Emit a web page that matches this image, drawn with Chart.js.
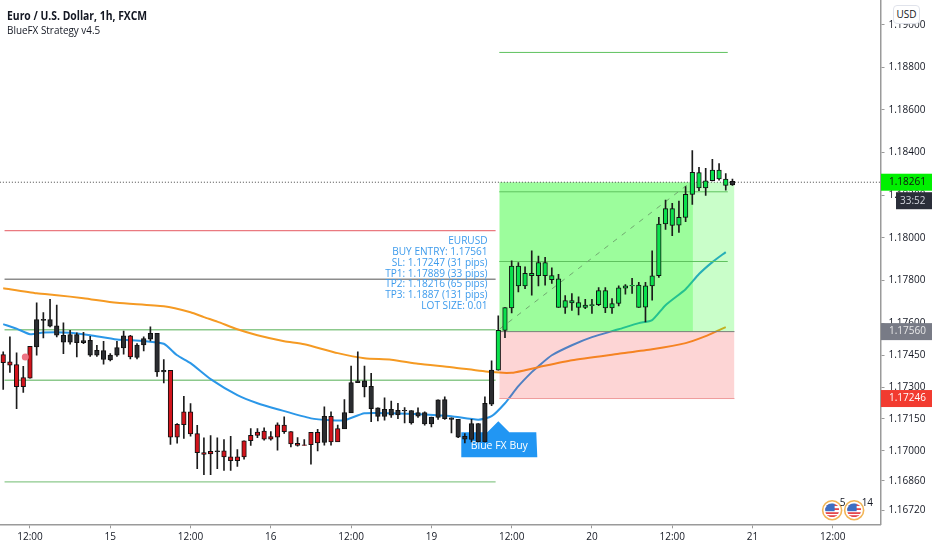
<!DOCTYPE html>
<html>
<head>
<meta charset="utf-8">
<title>EURUSD BlueFX</title>
<script src="https://cdn.jsdelivr.net/npm/chart.js@4/dist/chart.umd.min.js"></script>
<style>
    html, body { margin: 0; padding: 0; background: #fff; }
    #wrap { position: relative; width: 932px; height: 550px; overflow: hidden; }
    #titulo { position: absolute; left: 7px; top: 7px; font: bold 12px "Open Sans"; color: #131722; transform: scaleX(0.865); transform-origin: left; white-space: nowrap; }
    #estrategia { position: absolute; left: 7px; top: 22px; font: 11.5px "Open Sans"; color: #131722; transform: scaleX(0.86); transform-origin: left; white-space: nowrap; }
    #usd { position: absolute; left: 893px; top: 5px; width: 25px; height: 17px; line-height: 17px; text-align: center;
           border: 1px solid #e0e3eb; border-radius: 4px; background: #fff; font: 10px/17px "Open Sans"; color: #131722; }
</style>
</head>
<body>
<div id="wrap">
    <canvas id="grafico" width="932" height="550"></canvas>
    <div id="titulo">Euro / U.S. Dollar, 1h, FXCM</div>
    <div id="estrategia">BlueFX Strategy v4.5</div>
    <div id="usd">USD</div>
</div>
<script>
// horas contadas desde el 14 a las 00:00
const firstHour = 8;

const bodyTop = [
    1.17452, 1.17418, 1.17405, 1.17344, 1.17491, 1.17616, 1.17618, 1.17616, 1.17587, 1.17543,
    1.17546, 1.17546, 1.17518, 1.17519, 1.17472, 1.17471, 1.17450, 1.17485, 1.17540, 1.17540,
    1.17497, 1.17527, 1.17552, 1.17552, 1.17378, 1.17378, 1.17125, 1.17184, 1.17184, 1.17081,
    1.16993, 1.16998, 1.17001, 1.17001, 1.16972, 1.16972, 1.17048, 1.17073, 1.17089, 1.17093,
    1.17068, 1.17123, 1.17121, 1.17091, 1.17036, 1.17029, 1.17088, 1.17087, 1.17163, 1.17163,
    1.17105, 1.17180, 1.17321, 1.17329, 1.17329, 1.17303, 1.17202, 1.17195, 1.17195, 1.17191,
    1.17191, 1.17190, 1.17180, 1.17180, 1.17159, 1.17240, 1.17241, 1.17155, 1.17148, 1.17069,
    1.17129, 1.17129, 1.17223, 1.17379, 1.17566, 1.17673, 1.17867, 1.17867, 1.17833, 1.17833,
    1.17884, 1.17884, 1.17823, 1.17808, 1.17706, 1.17706, 1.17696, 1.17684, 1.17687, 1.17753,
    1.17753, 1.17692, 1.17766, 1.17775, 1.17777, 1.17778, 1.17775, 1.17822, 1.18065, 1.18137,
    1.18137, 1.18096, 1.18204, 1.18307, 1.18306, 1.18268, 1.18318, 1.18318, 1.18276, 1.18265
];
const bodyBottom = [
    1.17414, 1.17402, 1.17302, 1.17302, 1.17342, 1.17488, 1.17613, 1.17585, 1.17543, 1.17511,
    1.17511, 1.17508, 1.17508, 1.17449, 1.17449, 1.17429, 1.17427, 1.17449, 1.17483, 1.17441,
    1.17439, 1.17497, 1.17524, 1.17371, 1.17371, 1.17065, 1.17065, 1.17123, 1.17080, 1.16992,
    1.16984, 1.16986, 1.16997, 1.16972, 1.16954, 1.16954, 1.16972, 1.17048, 1.17073, 1.17055,
    1.17055, 1.17065, 1.17090, 1.17033, 1.17026, 1.17026, 1.17029, 1.17038, 1.17040, 1.17043,
    1.17043, 1.17104, 1.17179, 1.17321, 1.17301, 1.17199, 1.17162, 1.17162, 1.17168, 1.17169,
    1.17188, 1.17132, 1.17163, 1.17127, 1.17127, 1.17157, 1.17152, 1.17148, 1.17065, 1.17055,
    1.17054, 1.17043, 1.17043, 1.17220, 1.17379, 1.17566, 1.17671, 1.17775, 1.17775, 1.17823,
    1.17822, 1.17822, 1.17804, 1.17673, 1.17673, 1.17695, 1.17673, 1.17674, 1.17682, 1.17687,
    1.17671, 1.17671, 1.17692, 1.17764, 1.17774, 1.17673, 1.17675, 1.17774, 1.17822, 1.18065,
    1.18058, 1.18060, 1.18096, 1.18204, 1.18234, 1.18234, 1.18268, 1.18276, 1.18246, 1.18248
];
const wickTop = [
    1.17465, 1.17535, 1.17460, 1.17397, 1.17491, 1.17695, 1.17649, 1.17712, 1.17684, 1.17601,
    1.17566, 1.17554, 1.17557, 1.17538, 1.17496, 1.17515, 1.17457, 1.17515, 1.17562, 1.17543,
    1.17504, 1.17535, 1.17582, 1.17552, 1.17429, 1.17378, 1.17128, 1.17256, 1.17222, 1.17120,
    1.17062, 1.17072, 1.17062, 1.17053, 1.17069, 1.17006, 1.17048, 1.17105, 1.17105, 1.17108,
    1.17091, 1.17132, 1.17160, 1.17091, 1.17063, 1.17054, 1.17088, 1.17101, 1.17207, 1.17184,
    1.17121, 1.17241, 1.17398, 1.17465, 1.17398, 1.17364, 1.17202, 1.17249, 1.17234, 1.17223,
    1.17204, 1.17190, 1.17202, 1.17184, 1.17159, 1.17240, 1.17254, 1.17155, 1.17148, 1.17082,
    1.17148, 1.17129, 1.17254, 1.17423, 1.17634, 1.17673, 1.17892, 1.17884, 1.17864, 1.17939,
    1.17914, 1.17908, 1.17859, 1.17829, 1.17729, 1.17739, 1.17723, 1.17712, 1.17712, 1.17767,
    1.17767, 1.17715, 1.17775, 1.17781, 1.17810, 1.17791, 1.17791, 1.17939, 1.18096, 1.18177,
    1.18162, 1.18173, 1.18240, 1.18409, 1.18331, 1.18326, 1.18368, 1.18349, 1.18302, 1.18276
];
const wickBottom = [
    1.17289, 1.17369, 1.17198, 1.17275, 1.17342, 1.17449, 1.17530, 1.17582, 1.17535, 1.17457,
    1.17501, 1.17441, 1.17504, 1.17444, 1.17444, 1.17407, 1.17422, 1.17444, 1.17454, 1.17432,
    1.17432, 1.17469, 1.17516, 1.17350, 1.17319, 1.17031, 1.17037, 1.17059, 1.17069, 1.16917,
    1.16889, 1.16889, 1.16917, 1.16909, 1.16909, 1.16928, 1.16962, 1.17026, 1.17062, 1.17051,
    1.17051, 1.17004, 1.17082, 1.17019, 1.17022, 1.17026, 1.16938, 1.17000, 1.17027, 1.17027,
    1.17069, 1.17137, 1.17254, 1.17321, 1.17254, 1.17137, 1.17141, 1.17144, 1.17157, 1.17152,
    1.17132, 1.17126, 1.17157, 1.17121, 1.17113, 1.17148, 1.17148, 1.17085, 1.17062, 1.17038,
    1.17043, 1.17043, 1.17043, 1.17212, 1.17379, 1.17532, 1.17648, 1.17746, 1.17762, 1.17731,
    1.17775, 1.17778, 1.17786, 1.17673, 1.17645, 1.17660, 1.17638, 1.17668, 1.17645, 1.17682,
    1.17649, 1.17645, 1.17680, 1.17736, 1.17739, 1.17673, 1.17606, 1.17708, 1.17814, 1.18040,
    1.18010, 1.18025, 1.18076, 1.18157, 1.18221, 1.18199, 1.18267, 1.18271, 1.18224, 1.18246
];
// r = rojo, k = negro, g = verde, una letra por vela
const candleKind = (
    "rrrrr" + "kkkkkkkkkkkkkk" + "r" + "kkkkk" + "rrrrrrr" + "k" +
    "rrrrrrrrrrrrrrr" + "k" + "rr" + "kkkkkkkkkkkkkkkkkkkkkkk" +
    "gggggggggggggggggggggggggggggggggggk"
).split("");

const orangeHours = [8, 13, 16, 20, 25, 32, 36, 38, 40, 43, 46, 50, 53, 58, 62, 66, 70, 75, 81, 84, 86, 88, 93, 100, 105, 110, 113, 115, 116];
const orangeValues = [1.17764, 1.17740, 1.17731, 1.17717, 1.17695, 1.17679, 1.17651, 1.17628, 1.17607, 1.17571, 1.17543, 1.17515, 1.17501, 1.17459, 1.17435, 1.17428, 1.17409, 1.17393, 1.17370, 1.17367, 1.17379, 1.17393, 1.17426, 1.17456, 1.17477, 1.17506, 1.17539, 1.17567, 1.17581];
const blueHours = [8, 10, 12, 14, 18, 21, 25, 29, 32, 34, 36, 39, 43, 46, 49, 54, 57, 59, 62, 66, 71, 75, 79, 81, 83, 85, 87, 88, 90, 93, 96, 100, 103, 105, 107, 110, 112, 114, 116];
const blueValues = [1.17595, 1.17574, 1.17548, 1.17556, 1.17555, 1.17543, 1.17523, 1.17516, 1.17503, 1.17449, 1.17412, 1.17337, 1.17262, 1.17224, 1.17196, 1.17153, 1.17144, 1.17144, 1.17177, 1.17177, 1.17171, 1.17163, 1.17147, 1.17163, 1.17224, 1.17304, 1.17370, 1.17398, 1.17449, 1.17496, 1.17534, 1.17571, 1.17600, 1.17614, 1.17684, 1.17759, 1.17830, 1.17886, 1.17933];

const entryPrice = 1.17560, stopPrice = 1.17246, tp1 = 1.17889, tp2 = 1.18216, tp3 = 1.18870;
const boxTop = 1.18261, lastPrice = 1.18261;
const tradeStart = 82.15, tradeSplit = 111.1, tradeEnd = 117.3, tpEnd = 116.3, levelStart = 8.2, levelEnd = 81.6;
const greenLevels = [1.17569, 1.17332, 1.16855];
const redLevel = 1.18034, greyLevel = 1.17806;
const markerHour = 11.3, markerPrice = 1.17441;

const priceTicks = [1.19, 1.188, 1.186, 1.184, 1.182, 1.18, 1.178, 1.176, 1.1745, 1.173, 1.1715, 1.17, 1.1686, 1.1672];
const hourTicks = [12, 24, 36, 48, 60, 72, 84, 96, 108, 120, 132];
const hourLabels = ["12:00", "15", "12:00", "16", "12:00", "19", "12:00", "20", "12:00", "21", "12:00"];
const infoLines = ["EURUSD", "BUY ENTRY: 1.17561", "SL: 1.17247 (31 pips)", "TP1: 1.17889 (33 pips)", "TP2: 1.18216 (65 pips)", "TP3: 1.1887 (131 pips)", "LOT SIZE: 0.01"];
const tagPrices = [1.18261, 1.17560, 1.17246];
const tagLabels = ["1.18261", "1.17560", "1.17246"];
const newsCounts = ["5", "14"];

const kindFill = { r: "#d3141c", k: "#2a2c30", g: "#0ae04c" };
const fontName = '"Open Sans"';

function segmento(x0, x1, y, color, extra) {
    return Object.assign({
        type: "line",
        data: [{ x: x0, y: y }, { x: x1, y: y }],
        borderColor: color,
        borderWidth: 1,
        pointRadius: 0,
        order: 7
    }, extra || {});
}

let datasets = [];

// lineas horizontales de la izquierda
greenLevels.forEach(p => datasets.push(segmento(levelStart, levelEnd, p, "#8cc98c", { borderWidth: 1.4 })));
datasets.push(segmento(levelStart, levelEnd, redLevel, "#ea7a80", { borderWidth: 1.2 }));
datasets.push(segmento(levelStart, levelEnd, greyLevel, "#8c8c8c", { borderWidth: 1.6 }));

// medias moviles
datasets.push({
    type: "line",
    data: orangeHours.map((h, i) => ({ x: h, y: orangeValues[i] })),
    borderColor: "#f59a23", borderWidth: 2, pointRadius: 0, tension: 0.2, order: 6
});
datasets.push({
    type: "line",
    data: blueHours.map((h, i) => ({ x: h, y: blueValues[i] })),
    borderColor: "#2b97e8", borderWidth: 2, pointRadius: 0, tension: 0.2, order: 6
});

// cajas de la operacion
datasets.push(segmento(tradeStart, tradeSplit, boxTop, "rgba(0,0,0,0)", { fill: { value: entryPrice }, backgroundColor: "rgba(30,250,30,0.44)", order: 5 }));
datasets.push(segmento(tradeSplit, tradeEnd, boxTop, "rgba(0,0,0,0)", { fill: { value: entryPrice }, backgroundColor: "rgba(30,250,30,0.24)", order: 5 }));
datasets.push(segmento(tradeStart, tradeEnd, entryPrice, "rgba(0,0,0,0)", { fill: { value: stopPrice }, backgroundColor: "rgba(245,30,30,0.19)", order: 5 }));

// niveles de la operacion
[tp1, tp2, tp3].forEach(p => datasets.push(segmento(tradeStart, tpEnd, p, "#5fc25f", { order: 4 })));
datasets.push(segmento(tradeStart, tradeEnd, entryPrice, "#7a7f7a", { order: 4 }));
datasets.push(segmento(tradeStart, tradeEnd, stopPrice, "#ef9a9a", { order: 4 }));

// diagonal punteada y precio actual
datasets.push({
    type: "line",
    data: [{ x: 82.2, y: 1.17572 }, { x: 110.4, y: 1.18252 }],
    borderColor: "#6fa86f", borderWidth: 1, borderDash: [5, 6], pointRadius: 0, order: 3
});
datasets.push(segmento(7.5, 139.2, lastPrice, "#444", { borderDash: [1, 2], order: 3 }));

// velas: mecha y cuerpo
datasets.push({
    type: "bar",
    grouped: false,
    data: wickTop.map((t, i) => ({ x: firstHour + i, y: [wickBottom[i], t] })),
    backgroundColor: "#1b1b1b",
    barThickness: 1,
    order: 2
});
datasets.push({
    type: "bar",
    grouped: false,
    data: bodyTop.map((t, i) => ({ x: firstHour + i, y: [bodyBottom[i], t] })),
    backgroundColor: candleKind.map(k => kindFill[k]),
    borderColor: "#111",
    borderWidth: 1,
    borderSkipped: false,
    barThickness: 4.6,
    order: 1
});

datasets.push({
    type: "line",
    data: [{ x: markerHour, y: markerPrice }],
    showLine: false,
    pointRadius: 3.5,
    pointBackgroundColor: "#ee7585",
    pointBorderWidth: 0,
    order: 0
});

// etiqueta Blue FX Buy, bajo las velas
const etiquetaCompra = {
    id: "etiquetaCompra",
    beforeDatasetsDraw(chart) {
        const c = chart.ctx, x = chart.scales.x.getPixelForValue(82), y = chart.scales.y.getPixelForValue(1.17140);
        c.save();
        c.fillStyle = "#2196f3";
        c.beginPath();
        c.moveTo(x, y);
        c.lineTo(x + 11, y + 11);
        c.lineTo(x + 38, y + 11);
        c.lineTo(x + 39, y + 36);
        c.lineTo(x - 37, y + 36);
        c.lineTo(x - 37, y + 11);
        c.lineTo(x - 11, y + 11);
        c.closePath();
        c.fill();
        c.fillStyle = "#fff";
        c.font = "10.5px " + fontName;
        c.textAlign = "center";
        c.textBaseline = "middle";
        c.fillText("Blue FX Buy", x + 1, y + 25);
        c.restore();
    }
};

// bandera pequena con su contador
function icono(c, x, y, n) {
    c.beginPath(); c.arc(x, y, 9.5, 0, Math.PI * 2); c.fillStyle = "#fff"; c.fill();
    c.lineWidth = 1.6; c.strokeStyle = "#f2b455"; c.stroke();
    c.save();
    c.beginPath(); c.arc(x, y, 7, 0, Math.PI * 2); c.clip();
    c.fillStyle = "#fff"; c.fillRect(x - 7, y - 7, 14, 14);
    c.fillStyle = "#e4474b";
    [-6, -2, 2, 5].forEach(d => c.fillRect(x - 7, y + d, 14, 1.8));
    c.fillStyle = "#3d6fc4"; c.fillRect(x - 7, y - 7, 9.5, 8);
    c.restore();
    c.fillStyle = "#131722";
    c.font = "10px " + fontName;
    c.textAlign = "left";
    c.fillText(n, x + 7.5, y - 7);
}

// texto azul, etiquetas del eje de precios e iconos de noticias
const adornos = {
    id: "adornos",
    afterDraw(chart) {
        const c = chart.ctx, sx = chart.scales.x, sy = chart.scales.y;
        const tagFill = ["#00f000", "#787b86", "#f23b30"];
        const tagText = ["#111", "#e8e8e8", "#fff"];
        c.save();
        c.textBaseline = "middle";

        c.font = "10.1px " + fontName;
        c.fillStyle = "#3d9bec";
        c.textAlign = "right";
        const xInfo = sx.getPixelForValue(80.4), yInfo = sy.getPixelForValue(1.17984);
        infoLines.forEach((l, i) => c.fillText(l, xInfo, yInfo + i * 10.8));

        const xEje = chart.chartArea.right;
        c.textAlign = "left";
        c.font = "10px " + fontName;
        tagPrices.forEach((p, i) => {
            const y = sy.getPixelForValue(p);
            c.fillStyle = tagFill[i];
            c.fillRect(xEje + 0.5, y - 8.5, 932 - xEje, 17);
            c.fillStyle = tagText[i];
            c.fillText(tagLabels[i], xEje + 8.5, y);
        });
        const yReloj = sy.getPixelForValue(lastPrice) + 18.5;
        c.fillStyle = "#2a2e39";
        c.fillRect(896, yReloj - 8.5, 36, 17);
        c.fillStyle = "#d1d4dc";
        c.fillText("33:52", 900, yReloj);

        newsCounts.forEach((n, i) => {
            icono(c, sx.getPixelForValue(131.9 + i * 3.29), sy.getPixelForValue(1.16722), n);
        });
        c.restore();
    }
};

new Chart(document.getElementById("grafico").getContext("2d"), {
    type: "bar",
    data: { datasets: datasets },
    plugins: [etiquetaCompra, adornos],
    options: {
        responsive: false,
        animation: false,
        layout: { padding: 0, autoPadding: false },
        plugins: { legend: { display: false }, tooltip: { enabled: false } },
        scales: {
            x: {
                type: "linear",
                min: 7.52,
                max: 139.13,
                offset: false,
                afterBuildTicks(scale) { scale.ticks = hourTicks.map(v => ({ value: v })); },
                afterFit(scale) { scale.height = 25.7; scale.paddingLeft = 0; scale.paddingRight = 0; },
                ticks: {
                    autoSkip: false,
                    maxRotation: 0,
                    color: "#131722",
                    font: { family: "Open Sans", size: 10 },
                    padding: 3,
                    callback: (v) => hourLabels[hourTicks.indexOf(v)]
                },
                grid: { drawOnChartArea: false, tickLength: 4, tickColor: "#999", offset: false },
                border: { color: "#9a9a9a", width: 1.5 }
            },
            y: {
                position: "right",
                min: 1.166559,
                max: 1.19116,
                afterBuildTicks(scale) { scale.ticks = priceTicks.map(v => ({ value: v })); },
                afterFit(scale) { scale.width = 51.5; scale.paddingTop = 0; scale.paddingBottom = 0; },
                ticks: {
                    autoSkip: false,
                    color: "#131722",
                    font: { family: "Open Sans", size: 10 },
                    padding: 4,
                    callback: (v) => v.toFixed(5)
                },
                grid: { drawOnChartArea: false, tickLength: 4, tickColor: "#999" },
                border: { color: "#9a9a9a", width: 1.5 }
            }
        }
    }
});
</script>
</body>
</html>
